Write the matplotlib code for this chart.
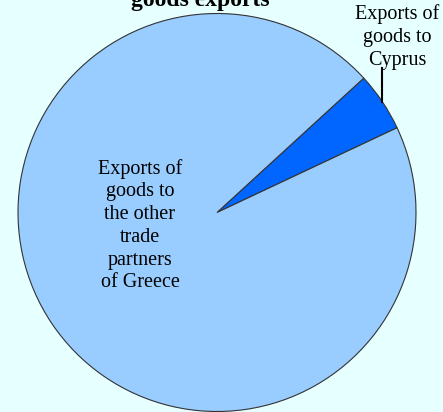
import numpy as np
import matplotlib
matplotlib.use('Agg')
import matplotlib.pyplot as plt

# Data (shares of Greek goods exports, %)
categories = ['Exports of\ngoods to\nCyprus',
              'Exports of\ngoods to\nthe other\ntrade\npartners\nof Greece']
shares = [4.8, 95.2]
colors = ['#0066ff', '#99ccff']

W, H = 443, 412
fig = plt.figure(figsize=(W / 100, H / 100), dpi=100, facecolor='#e6ffff')
ax = fig.add_axes([0, 0, 1, 1])

cx, cy, r = 217, H - 212.5, 199
wedges, _ = ax.pie(shares, colors=colors, startangle=25.2, counterclock=True,
                   center=(cx, cy), radius=r, frame=True,
                   wedgeprops=dict(edgecolor='#333333', linewidth=0.8))
ax.set_xlim(0, W)
ax.set_ylim(0, H)
ax.set_aspect('equal')
ax.axis('off')

serif = ['Liberation Serif', 'DejaVu Serif']

# Cyprus label with vertical leader line
w = wedges[0]
mid = np.deg2rad((w.theta1 + w.theta2) / 2)
px, py = cx + r * np.cos(mid), cy + r * np.sin(mid)
ax.plot([px, px], [py, H - 68], color='black', linewidth=1.5)
ax.text(397, H - 37, categories[0], ha='center', va='center',
        fontsize=14.5, family=serif, linespacing=1.27)

# Rest label inside the big slice
ax.text(140, H - 225.5, categories[1], ha='center', va='center',
        fontsize=14.5, family=serif, linespacing=1.27)

# Title (partly out of frame, as in the original)
ax.text(200, H - 6, 'goods exports', ha='center', va='baseline',
        fontsize=17, fontweight='bold', family=serif)

fig.savefig('out.png', dpi=100, facecolor=fig.get_facecolor())
